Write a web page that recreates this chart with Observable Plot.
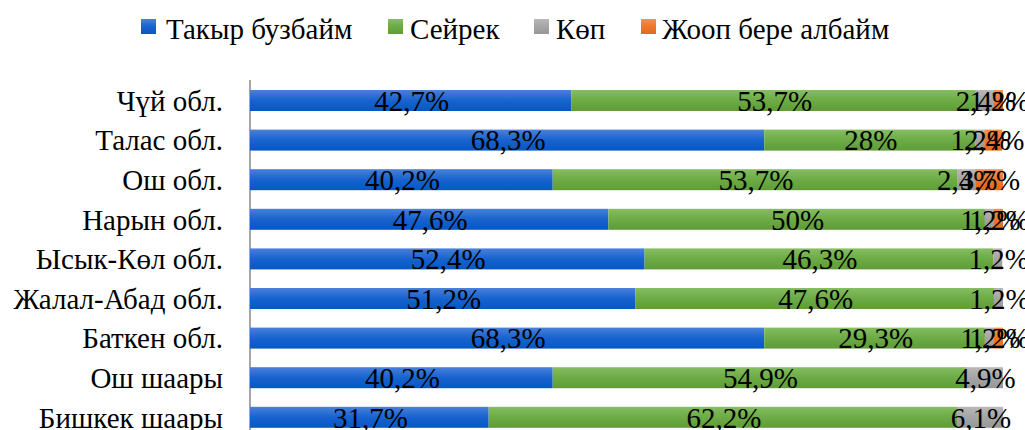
<!DOCTYPE html>
<html><head><meta charset="utf-8">
<script src="https://cdn.jsdelivr.net/npm/d3@7"></script>
<script src="https://cdn.jsdelivr.net/npm/@observablehq/plot@0.6"></script>
<style>
body{margin:0;background:#fff;font-family:"Liberation Serif","Times New Roman","FreeSerif";width:1025px;height:430px;overflow:hidden;position:relative;}
#legend{position:relative;height:60px;}
#legend .sw{position:absolute;top:19px;width:15px;height:15px;}
#legend .lab{position:absolute;top:14.5px;font-size:14.5px;line-height:1;white-space:nowrap;color:#000;transform:scale(2);transform-origin:0 0;}
#chart{position:relative;height:370px;}
#chart svg{position:absolute;left:0;top:0;transform:scale(2);transform-origin:0 0;max-width:none;}
</style></head><body>
<div id="legend"></div><div id="chart"></div>
<script>
const regions = ["Чүй обл.","Талас обл.","Ош обл.","Нарын обл.","Ысык-Көл обл.","Жалал-Абад обл.","Баткен обл.","Ош шаары","Бишкек шаары"];
const series = ["Такыр бузбайм","Сейрек","Көп","Жооп бере албайм"];
const takyr = [42.7,68.3,40.2,47.6,52.4,51.2,68.3,40.2,31.7];
const seirek = [53.7,28,53.7,50,46.3,47.6,29.3,54.9,62.2];
const kop = [2.4,1.2,2.4,1.2,1.2,1.2,1.2,4.9,6.1];
const joop = [1.2,2.4,3.7,1.2,0,0,1.2,0,0];
const gradStops = [["#4a80da","#1763cf","#0657c4"],["#86be62","#6cab45","#5f9c37"],["#b8b8b8","#a5a5a5","#979797"],["#f49052","#ec782c","#e06a1c"]];

const cols = [takyr, seirek, kop, joop];
const data = [];
regions.forEach((r,i) => series.forEach((s,j) => { if (cols[j][i] > 0) data.push({region:r, series:s, value:cols[j][i]}); }));
const fmt = v => String(v).replace(".", ",") + "%";

// legend (layout positions only)
const legSwX = [141, 388, 534, 641];
const legTxtX = [166, 410, 556, 662];
const leg = document.getElementById("legend");
series.forEach((s,j) => {
  const sw = document.createElement("div"); sw.className = "sw";
  sw.style.left = legSwX[j] + "px";
  sw.style.background = `linear-gradient(${gradStops[j][0]}, ${gradStops[j][1]}, ${gradStops[j][2]})`;
  const lb = document.createElement("div"); lb.className = "lab"; lb.textContent = s;
  lb.style.left = legTxtX[j] + "px";
  leg.append(sw, lb);
});

// The chart is drawn at half size and shown at 2x (CSS).
const FS = 14.5;
const chart = Plot.plot({
  width: 512.5, height: 185,
  marginLeft: 125, marginRight: 11, marginTop: 10, marginBottom: 0,
  style: {fontFamily: "'Liberation Serif', 'Times New Roman', 'FreeSerif'", fontSize: FS + "px", color: "#000", background: "#fff"},
  x: {domain: [0, 100], range: [125, 501.5], axis: null},
  y: {domain: regions, range: [5.7, 193.2], padding: 0.47, round: false, label: null},
  color: {domain: series, range: series.map((s,j) => `url(#g${j})`)},
  marks: [
    Plot.ruleX([0], {stroke: "#a6a6a6", strokeWidth: 1, dx: -0.5}),
    Plot.barX(data, Plot.stackX({x: "value", y: "region", fill: "series", z: "series"})),
    Plot.text(data, Plot.stackX({x: "value", y: "region", z: "series", text: d => fmt(d.value), fill: "#000", fontSize: FS})),
    Plot.axisY({tickSize: 0, tickPadding: 14, fontSize: FS, label: null})
  ]
});
const defs = d3.select(chart).insert("defs", ":first-child");
gradStops.forEach((st,j) => {
  const g = defs.append("linearGradient").attr("id", `g${j}`).attr("x1", 0).attr("y1", 0).attr("x2", 0).attr("y2", 1);
  g.append("stop").attr("offset", "0%").attr("stop-color", st[0]);
  g.append("stop").attr("offset", "50%").attr("stop-color", st[1]);
  g.append("stop").attr("offset", "100%").attr("stop-color", st[2]);
});
document.getElementById("chart").append(chart);
</script>
</body></html>
